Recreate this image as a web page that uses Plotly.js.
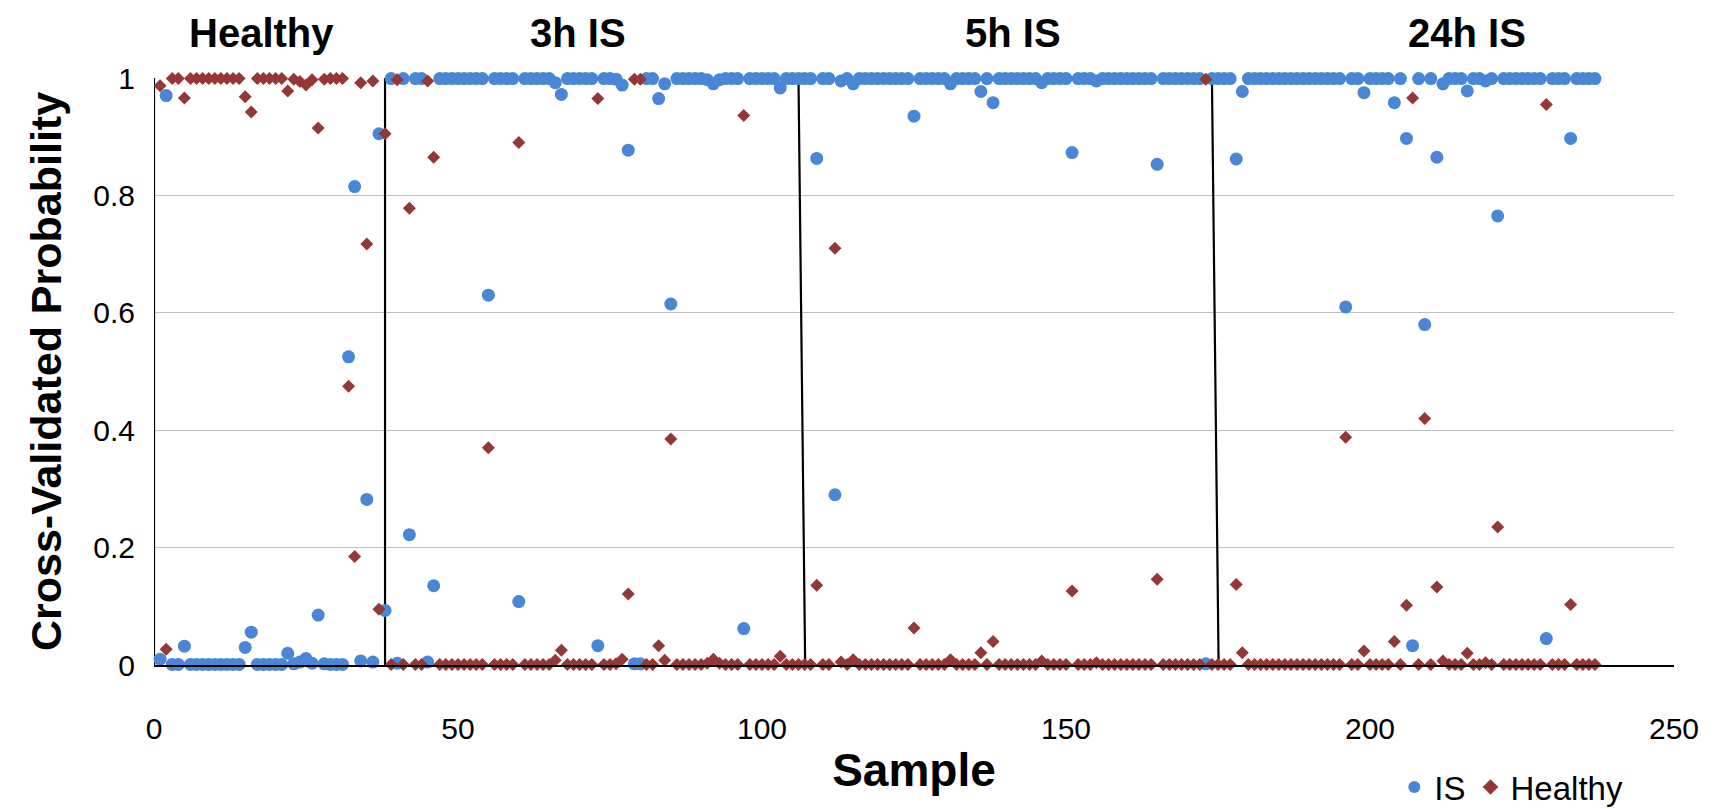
<!DOCTYPE html>
<html>
<head>
<meta charset="utf-8">
<script src="https://cdn.plot.ly/plotly-3.0.1.min.js"></script>
<style>
  html, body { margin: 0; padding: 0; background: #ffffff; }
  #chart { width: 1721px; height: 809px; }
</style>
</head>
<body>
<div id="chart"></div>
<script>
// ---- Data ----
// Cross-validated probability of class "IS" for samples 1..237
const isProb = [
  0.010, 0.970, 0.001, 0.001, 0.032, 0.001, 0.001, 0.001, 0.001, 0.001,
  0.001, 0.001, 0.001, 0.001, 0.030, 0.056, 0.001, 0.001, 0.001, 0.001,
  0.001, 0.020, 0.002, 0.005, 0.011, 0.003, 0.085, 0.002, 0.001, 0.001,
  0.001, 0.525, 0.815, 0.007, 0.282, 0.005, 0.905, 0.093,
  0.999, 0.003, 0.999, 0.222, 0.999, 0.999, 0.005, 0.135, 0.999, 0.999,
  0.999, 0.999, 0.999, 0.999, 0.999, 0.999, 0.630, 0.999, 0.999, 0.999,
  0.999, 0.108, 0.999, 0.999, 0.999, 0.999, 0.999, 0.992, 0.972, 0.999,
  0.999, 0.999, 0.999, 0.999, 0.033, 0.999, 0.999, 0.998, 0.988, 0.877,
  0.002, 0.002, 0.999, 0.999, 0.965, 0.990, 0.615, 0.999, 0.999, 0.999,
  0.999, 0.999, 0.997, 0.990, 0.997, 0.999, 0.999, 0.999, 0.062, 0.999,
  0.999, 0.999, 0.999, 0.999, 0.983, 0.999, 0.999, 0.999,
  0.999, 0.999, 0.863, 0.999, 0.999, 0.290, 0.995, 0.999, 0.990, 0.999,
  0.999, 0.999, 0.999, 0.999, 0.999, 0.999, 0.999, 0.999, 0.935, 0.999,
  0.999, 0.999, 0.999, 0.999, 0.990, 0.999, 0.999, 0.999, 0.999, 0.977,
  0.999, 0.958, 0.999, 0.999, 0.999, 0.999, 0.999, 0.999, 0.999, 0.992,
  0.999, 0.999, 0.999, 0.999, 0.873, 0.999, 0.999, 0.999, 0.995, 0.999,
  0.999, 0.999, 0.999, 0.999, 0.999, 0.999, 0.999, 0.999, 0.853, 0.999,
  0.999, 0.999, 0.999, 0.999, 0.999, 0.999, 0.002, 0.999,
  0.999, 0.999, 0.999, 0.862, 0.977, 0.999, 0.999, 0.999, 0.999, 0.999,
  0.999, 0.999, 0.999, 0.999, 0.999, 0.999, 0.999, 0.999, 0.999, 0.999,
  0.999, 0.610, 0.999, 0.999, 0.975, 0.999, 0.999, 0.999, 0.999, 0.958,
  0.999, 0.897, 0.033, 0.999, 0.580, 0.999, 0.865, 0.990, 0.999, 0.999,
  0.999, 0.978, 0.999, 0.999, 0.995, 0.999, 0.765, 0.999, 0.999, 0.999,
  0.999, 0.999, 0.999, 0.999, 0.045, 0.999, 0.999, 0.999, 0.897, 0.999,
  0.999, 0.999, 0.999
];

// Cross-validated probability of class "Healthy" for samples 1..237
const healthyProb = [
  0.987, 0.027, 0.999, 0.999, 0.966, 0.999, 0.999, 0.999, 0.999, 0.999,
  0.999, 0.999, 0.999, 0.999, 0.968, 0.942, 0.999, 0.999, 0.999, 0.999,
  0.999, 0.978, 0.998, 0.994, 0.988, 0.997, 0.915, 0.998, 0.999, 0.999,
  0.999, 0.475, 0.185, 0.992, 0.717, 0.995, 0.095, 0.905,
  0.001, 0.997, 0.001, 0.778, 0.001, 0.001, 0.995, 0.865, 0.001, 0.001,
  0.001, 0.001, 0.001, 0.001, 0.001, 0.001, 0.370, 0.001, 0.001, 0.001,
  0.001, 0.890, 0.001, 0.001, 0.001, 0.001, 0.001, 0.008, 0.025, 0.001,
  0.001, 0.001, 0.001, 0.001, 0.965, 0.001, 0.001, 0.002, 0.010, 0.121,
  0.998, 0.998, 0.001, 0.001, 0.033, 0.008, 0.385, 0.001, 0.001, 0.001,
  0.001, 0.001, 0.003, 0.010, 0.003, 0.001, 0.001, 0.001, 0.936, 0.001,
  0.001, 0.001, 0.001, 0.001, 0.015, 0.001, 0.001, 0.001,
  0.001, 0.001, 0.136, 0.001, 0.001, 0.710, 0.005, 0.001, 0.009, 0.001,
  0.001, 0.001, 0.001, 0.001, 0.001, 0.001, 0.001, 0.001, 0.063, 0.001,
  0.001, 0.001, 0.001, 0.001, 0.009, 0.001, 0.001, 0.001, 0.001, 0.021,
  0.001, 0.040, 0.001, 0.001, 0.001, 0.001, 0.001, 0.001, 0.001, 0.007,
  0.001, 0.001, 0.001, 0.001, 0.126, 0.001, 0.001, 0.001, 0.004, 0.001,
  0.001, 0.001, 0.001, 0.001, 0.001, 0.001, 0.001, 0.001, 0.146, 0.001,
  0.001, 0.001, 0.001, 0.001, 0.001, 0.001, 0.998, 0.001,
  0.001, 0.001, 0.001, 0.137, 0.021, 0.001, 0.001, 0.001, 0.001, 0.001,
  0.001, 0.001, 0.001, 0.001, 0.001, 0.001, 0.001, 0.001, 0.001, 0.001,
  0.001, 0.388, 0.001, 0.001, 0.024, 0.001, 0.001, 0.001, 0.001, 0.040,
  0.001, 0.102, 0.966, 0.001, 0.420, 0.001, 0.133, 0.007, 0.001, 0.001,
  0.001, 0.020, 0.001, 0.001, 0.004, 0.001, 0.235, 0.001, 0.001, 0.001,
  0.001, 0.001, 0.001, 0.001, 0.955, 0.001, 0.001, 0.001, 0.103, 0.001,
  0.001, 0.001, 0.001
];

// Sample numbers (1..N, one per measured sample)
const samples = isProb.map((_, i) => i + 1);

// Group names shown above the plot
const groupLabels = ["Healthy", "3h IS", "5h IS", "24h IS"];

// Group separator lines (sample position at top and bottom of the line)
const separatorTopX = [0, 38.0, 106.0, 174.0];
const separatorBottomX = [0, 38.0, 107.1, 175.1];

const xTicks = [0, 50, 100, 150, 200, 250];
const yTicks = [0, 0.2, 0.4, 0.6, 0.8, 1];
const yTickText = ["0", "0.2", "0.4", "0.6", "0.8", "1"];

// ---- Styling (layout only) ----
const FONT = "'Liberation Sans', Arial, sans-serif";
const labelCenters = [17.7, 69.7, 141.2, 215.9];

const sepX = [], sepY = [];
separatorTopX.forEach((t, i) => {
  sepX.push(t, separatorBottomX[i], null);
  sepY.push(1, 0, null);
});

const traces = [
  {
    x: sepX, y: sepY, type: 'scatter', mode: 'lines',
    line: { color: '#000000', width: 2.2 },
    showlegend: false, hoverinfo: 'skip', cliponaxis: false
  },
  {
    x: samples, y: isProb, type: 'scatter', mode: 'markers', name: 'IS',
    marker: { symbol: 'circle', size: 13, color: '#4A86D6' },
    cliponaxis: false
  },
  {
    x: samples, y: healthyProb, type: 'scatter', mode: 'markers', name: 'Healthy',
    marker: { symbol: 'diamond', size: 10, color: '#953735' },
    cliponaxis: false
  }
];

const layout = {
  width: 1721, height: 809,
  margin: { l: 154, r: 47, t: 78, b: 144, autoexpand: false },
  paper_bgcolor: '#ffffff', plot_bgcolor: '#ffffff',
  font: { family: FONT, color: '#000000' },
  showlegend: true,
  legend: {
    orientation: 'h', x: 0.816, y: -0.208, xanchor: 'left', yanchor: 'middle',
    font: { family: FONT, size: 33, color: '#000000' },
    itemsizing: 'constant', traceorder: 'normal', itemwidth: 30
  },
  xaxis: {
    range: [0, 250], tickvals: xTicks, ticktext: xTicks.map(String),
    showgrid: false, zeroline: false, showline: true,
    linecolor: '#000000', linewidth: 2, ticks: '',
    tickfont: { family: FONT, size: 30, color: '#000000' },
    ticklabelstandoff: 36,
    title: { text: 'Sample', font: { family: FONT, size: 46, weight: 'bold', color: '#000000' }, standoff: 10 },
    automargin: false
  },
  yaxis: {
    range: [0, 1], tickvals: yTicks, ticktext: yTickText,
    showgrid: true, gridcolor: '#bfbfbf', gridwidth: 1,
    zeroline: false, showline: false, ticks: '',
    tickfont: { family: FONT, size: 30, color: '#000000' },
    ticklabelstandoff: 18,
    title: { text: 'Cross-Validated Probability', font: { family: FONT, size: 43, weight: 'bold', color: '#000000' }, standoff: 18 },
    automargin: false
  },
  annotations: groupLabels.map((g, i) => ({
    text: g, x: labelCenters[i], xref: 'x', y: 1.077, yref: 'paper',
    showarrow: false, xanchor: 'center', yanchor: 'middle',
    font: { family: FONT, size: 40, weight: 'bold', color: '#000000' }
  }))
};

Plotly.newPlot('chart', traces, layout, { displayModeBar: false, staticPlot: true });
</script>
</body>
</html>
